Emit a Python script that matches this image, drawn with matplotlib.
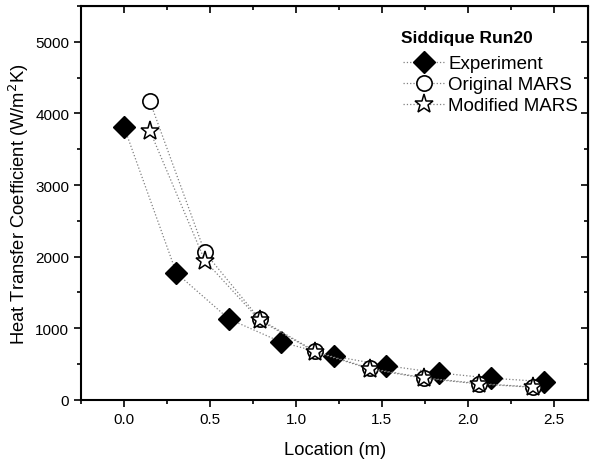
import matplotlib
matplotlib.use("Agg")
import matplotlib.pyplot as plt
from matplotlib.ticker import MultipleLocator

plt.rcParams['font.family'] = ['Liberation Sans', 'DejaVu Sans']

# heat transfer coefficient along the tube, Siddique run 20
exp_x = [0.0, 0.305, 0.61, 0.915, 1.22, 1.525, 1.83, 2.135, 2.44]
exp_h = [3810, 1770, 1130, 806, 610, 479, 377, 303, 256]

mars_x = [0.15, 0.47, 0.79, 1.11, 1.43, 1.745, 2.065, 2.38]
orig_h = [4170, 2060, 1125, 680, 440, 308, 228, 180]
mod_h = [3760, 1945, 1110, 672, 432, 302, 222, 176]

fig, ax = plt.subplots(figsize=(5.96, 4.64), dpi=100)
fig.subplots_adjust(left=0.136, right=0.987, top=0.985, bottom=0.136)

line_kw = dict(color='0.5', linestyle=':', linewidth=0.9)
ax.plot(exp_x, exp_h, marker='D', markersize=11.5, markerfacecolor='black',
        markeredgecolor='black', label='Experiment', **line_kw)
ax.plot(mars_x, orig_h, marker='o', markersize=11, markerfacecolor='white',
        markeredgecolor='black', markeredgewidth=1.2, label='Original MARS', **line_kw)
ax.plot(mars_x, mod_h, marker='*', markersize=14, markerfacecolor='white',
        markeredgecolor='black', markeredgewidth=1.1, label='Modified MARS', **line_kw)

ax.set_xlim(-0.25, 2.7)
ax.set_ylim(0, 5500)
ax.xaxis.set_minor_locator(MultipleLocator(0.25))
ax.yaxis.set_minor_locator(MultipleLocator(500))
ax.set_xticks([0.0, 0.5, 1.0, 1.5, 2.0, 2.5])
ax.set_xticklabels(['0.0', '0.5', '1.0', '1.5', '2.0', '2.5'])
ax.set_yticks([0, 1000, 2000, 3000, 4000, 5000])

for s in ax.spines.values():
    s.set_linewidth(1.5)

ax.tick_params(which='both', direction='out', width=1.2, labelsize=11)
ax.tick_params(which='major', length=5)
ax.tick_params(which='minor', length=3)

# mirrored ticks on top and right, pointing inward
top = ax.secondary_xaxis('top')
top.set_xticks([0.0, 0.5, 1.0, 1.5, 2.0, 2.5])
top.xaxis.set_minor_locator(MultipleLocator(0.25))
top.tick_params(which='both', direction='in', width=1.2, labeltop=False)
top.tick_params(which='major', length=5)
top.tick_params(which='minor', length=3)
right = ax.secondary_yaxis('right')
right.set_yticks([0, 1000, 2000, 3000, 4000, 5000])
right.yaxis.set_minor_locator(MultipleLocator(500))
right.tick_params(which='both', direction='in', width=1.2, labelright=False)
right.tick_params(which='major', length=5)
right.tick_params(which='minor', length=3)

ax.set_xlabel('Location (m)', fontsize=13.2, labelpad=11)
ax.set_ylabel('Heat Transfer Coefficient (W/m$^2$K)', fontsize=13.2, labelpad=3)

# legend heading drawn as its own text so the gap below it can be set
ax.text(0.631, 0.92, 'Siddique Run20', transform=ax.transAxes, ha='left', va='center',
        fontsize=12.5, fontweight='bold')
ax.legend(loc='upper left', bbox_to_anchor=(0.609, 0.908),
          frameon=False, fontsize=13.5,
          handlelength=2.2, handletextpad=0.2, labelspacing=0.2, borderpad=0.2)

fig.savefig('out.png', dpi=100)
